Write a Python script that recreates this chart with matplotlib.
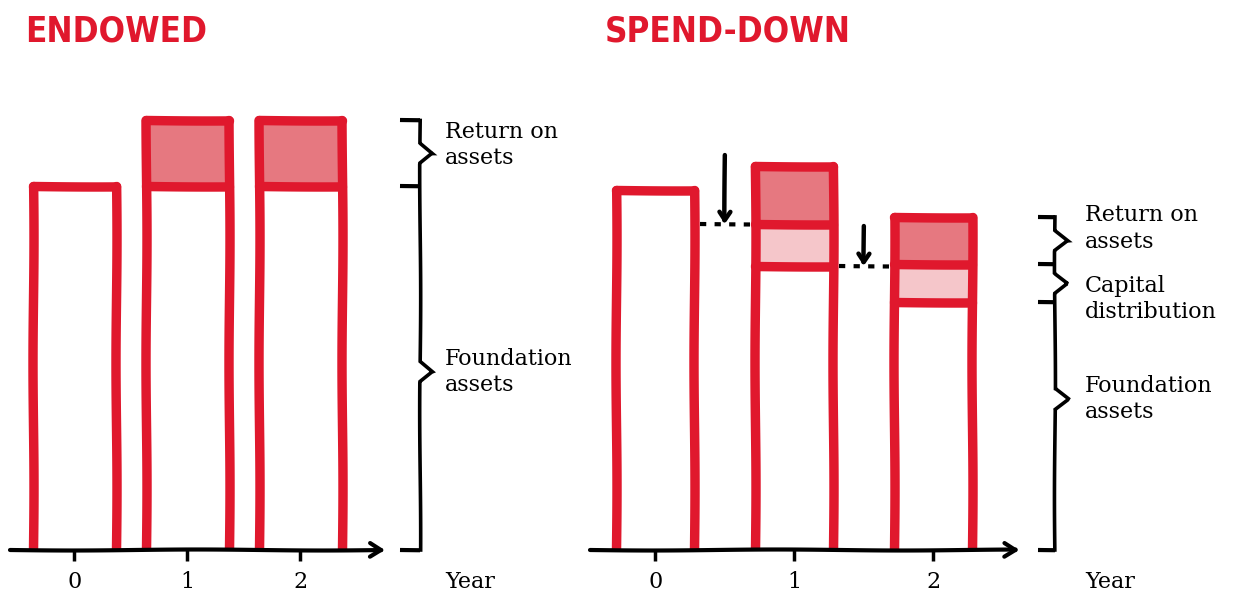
import matplotlib
matplotlib.use('Agg')
import matplotlib.pyplot as plt

# data
years = [0, 1, 2]
endowed_foundation = [100, 100, 100]
endowed_return = [0, 18, 18]
spend_foundation = [99, 78, 68]
spend_distribution = [0, 11.5, 10.5]
spend_return = [0, 16, 13]

red = '#e0182d'
dark_fill = '#e67880'
light_fill = '#f5c6ca'
serif = 'DejaVu Serif'

plt.rcParams['path.sketch'] = (0.5, 250, 1)

W, H = 1238, 596
fig = plt.figure(figsize=(W / 100, H / 100), dpi=100)
ax1 = fig.add_axes([10 / W, 46 / H, 575 / W, 450 / H])
ax2 = fig.add_axes([590 / W, 46 / H, 648 / W, 450 / H])
ax1.set_xlim(-0.57, -0.57 + 575 / 113)
ax2.set_xlim(-0.47, -0.47 + 648 / 139)
for ax in (ax1, ax2):
    ax.set_ylim(0, 450 / 3.64)
    ax.set_facecolor('none')
    for s in ax.spines.values():
        s.set_visible(False)
    ax.set_yticks([])
    ax.set_xticks(years)
    ax.set_xticklabels([str(y) for y in years], fontfamily=serif, fontsize=16)
    ax.tick_params(axis='x', length=8, width=2.5, color='black', pad=7)


def draw_bars(ax, segs, fills, width):
    for i, x in enumerate(years):
        bottom = 0
        tops = []
        for seg, fc in zip(segs, fills):
            h = seg[i]
            if h <= 0:
                continue
            ax.bar(x, h, bottom=bottom, width=width, color=fc, edgecolor='none', zorder=1)
            bottom += h
            tops.append(bottom)
        ax.vlines([x - width / 2, x + width / 2], 0, bottom, color=red, lw=6.8,
                  capstyle='round', zorder=2)
        ax.hlines(tops, x - width / 2, x + width / 2, color=red, lw=6.8,
                  capstyle='round', zorder=2)


def draw_axis(ax, x0, x1, year_x):
    ax.annotate('', xy=(x1, 0), xytext=(x0, 0), annotation_clip=False, zorder=3,
                arrowprops=dict(arrowstyle='->,head_length=0.8,head_width=0.5',
                                lw=3, color='black', shrinkA=0, shrinkB=0))
    ax.text(year_x, -8.8, 'Year', fontfamily=serif, fontsize=16, ha='center',
            va='center', clip_on=False)


def draw_brace(ax, levels, labels, fracs, shifts, x0, stub, tip, xt, d=2.8):
    for lv in levels:
        ax.plot([x0 - stub, x0], [lv, lv], color='black', lw=3, clip_on=False,
                solid_capstyle='butt')
    xs, ys = [x0], [levels[0]]
    for top, bot, lab, f, sh in zip(levels[:-1], levels[1:], labels, fracs, shifts):
        mid = bot + f * (top - bot)
        xs += [x0, tip, x0, x0]
        ys += [mid + d, mid, mid - d, bot]
        ax.text(xt, mid + sh, lab, fontfamily=serif, fontsize=16, ha='left',
                va='center', linespacing=1.25, clip_on=False)
    ax.plot(xs, ys, color='black', lw=2.6, clip_on=False, solid_joinstyle='miter')


# endowed panel
draw_bars(ax1, [endowed_foundation, endowed_return], ['white', dark_fill], 0.73)
draw_axis(ax1, -0.57, 2.75, 3.5)
lv1 = [endowed_foundation[2] + endowed_return[2], endowed_foundation[2], 0]
draw_brace(ax1, lv1, ['Return on\nassets', 'Foundation\nassets'], [0.5, 0.49],
           [2.2, 0], 3.06, 0.18, 3.17, 3.28)

# spend-down panel
draw_bars(ax2, [spend_foundation, spend_distribution, spend_return],
          ['white', light_fill, dark_fill], 0.56)
draw_axis(ax2, -0.47, 2.62, 3.27)
lv2 = [spend_foundation[2] + spend_distribution[2] + spend_return[2],
       spend_foundation[2] + spend_distribution[2], spend_foundation[2], 0]
draw_brace(ax2, lv2, ['Return on\nassets', 'Capital\ndistribution', 'Foundation\nassets'],
           [0.5, 0.5, 0.61], [3.3, -4.3, 0], 2.875, 0.12, 2.97, 3.09)

# dotted carry-over lines with arrows
carry = [(0.5, spend_foundation[1] + spend_distribution[1], 19),
         (1.5, spend_foundation[1], 11)]
for xc, lv, ln in carry:
    ax2.plot([xc - 0.18, xc + 0.18], [lv, lv], color='black', lw=3,
             linestyle=(0, (1.5, 2.0)), zorder=3)
    ax2.annotate('', xy=(xc, lv), xytext=(xc, lv + ln), zorder=3,
                 arrowprops=dict(arrowstyle='->,head_length=0.6,head_width=0.4',
                                 lw=3.2, color='black', shrinkA=0, shrinkB=0))

title_font = ['DejaVu Sans', 'Liberation Sans']
fig.text(25 / W, 1 - 31 / H, 'ENDOWED', color=red, fontsize=25, fontweight='bold',
         family=title_font, fontstretch='condensed', va='center', ha='left')
fig.text(605 / W, 1 - 31 / H, 'SPEND-DOWN', color=red, fontsize=25, fontweight='bold',
         family=title_font, fontstretch='condensed', va='center', ha='left')

fig.savefig('out.png', dpi=100, facecolor='white')
